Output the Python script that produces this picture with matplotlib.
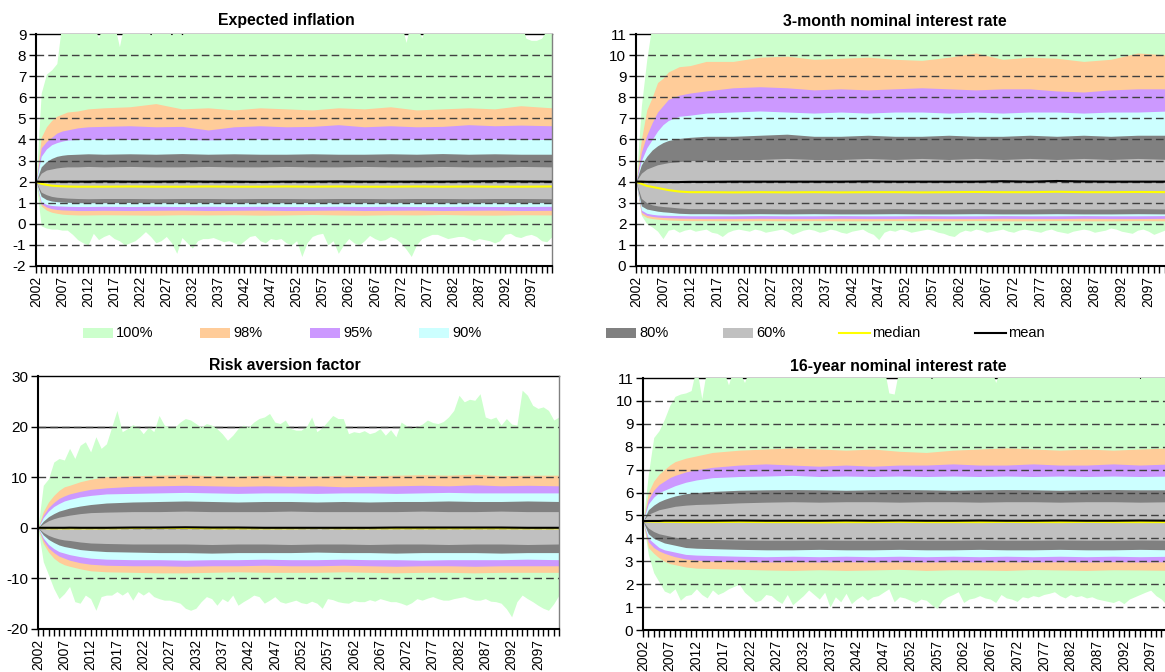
import numpy as np
import matplotlib
matplotlib.use("Agg")
import matplotlib.pyplot as plt
from matplotlib.patches import Rectangle
from matplotlib.lines import Line2D

plt.rcParams["font.family"] = ["Liberation Sans", "DejaVu Sans"]

# ── Data ──────────────────────────────────────────────────────────────────
YEARS = np.arange(2002, 2102)                      # yearly points for the 100% band
BAND_YEARS = [2002, 2003, 2004, 2005, 2006, 2007, 2008, 2010, 2012, 2015,
              2020, 2025, 2030, 2035, 2040, 2045, 2050, 2055, 2060, 2065,
              2070, 2075, 2080, 2085, 2090, 2095, 2101]

# Expected inflation
infl_100_hi = [2.0, 6.2, 7.1, 7.3, 7.6, 9.6, 9.8, 9.7, 9.6, 9.5,
               9.7, 9.5, 8.8, 9.6, 9.7, 9.5, 8.4, 9.6, 9.7, 9.8,
               9.5, 9.6, 8.9, 9.7, 9.6, 9.5, 8.9, 9.7, 8.9, 9.6,
               9.8, 9.5, 9.6, 9.7, 9.5, 9.8, 9.6, 9.7, 9.5, 9.6,
               9.8, 9.7, 9.5, 9.6, 9.7, 9.8, 9.6, 9.5, 9.7, 9.6,
               9.8, 9.5, 9.6, 9.7, 9.5, 9.8, 9.6, 9.7, 9.5, 9.6,
               9.7, 9.8, 9.5, 9.6, 9.7, 9.5, 9.8, 9.6, 9.7, 9.5,
               9.6, 8.6, 9.7, 9.5, 8.8, 9.6, 9.7, 9.8, 9.5, 9.6,
               9.7, 9.5, 9.8, 9.6, 9.7, 9.5, 9.6, 9.8, 9.7, 9.5,
               9.6, 9.7, 9.5, 9.6, 8.8, 8.7, 8.7, 8.8, 9.2, 9.4]
infl_100_lo = [2.0, -0.1, -0.2, -0.25, -0.25, -0.3, -0.3, -0.5, -0.75, -0.9,
               -1.0, -0.45, -0.75, -0.6, -0.5, -0.7, -0.8, -1.0, -0.9, -0.8,
               -0.6, -0.37, -0.6, -0.9, -0.8, -0.6, -0.9, -1.4, -0.65, -0.9,
               -1.15, -0.8, -0.7, -0.7, -0.65, -0.75, -0.85, -0.8, -0.9, -1.0,
               -0.8, -0.6, -0.55, -0.8, -0.9, -0.7, -0.75, -0.7, -0.9, -1.0,
               -0.8, -1.55, -0.9, -0.6, -0.5, -0.45, -1.0, -0.8, -1.4, -1.0,
               -0.7, -0.9, -1.0, -0.8, -0.55, -0.7, -0.8, -0.75, -0.6, -0.7,
               -0.9, -1.2, -1.55, -1.0, -0.7, -0.6, -0.5, -0.5, -0.6, -0.7,
               -0.65, -0.6, -0.6, -0.7, -0.8, -0.7, -0.75, -0.8, -0.9, -0.8,
               -0.5, -0.45, -0.6, -0.65, -0.55, -0.5, -0.6, -0.8, -0.85, -0.6]
infl_98_hi = [2.0, 4.1, 4.6, 4.9, 5.1, 5.2, 5.3, 5.35, 5.45, 5.5, 5.55, 5.7, 5.45, 5.5,
              5.4, 5.5, 5.45, 5.4, 5.5, 5.45, 5.55, 5.4, 5.45, 5.5, 5.45, 5.6, 5.5]
infl_98_lo = [2.0, 0.85, 0.65, 0.55, 0.5, 0.46, 0.44, 0.42, 0.42, 0.43, 0.42, 0.41, 0.43, 0.42,
              0.43, 0.41, 0.42, 0.44, 0.42, 0.41, 0.43, 0.42, 0.44, 0.42, 0.41, 0.43, 0.42]
infl_95_hi = [2.0, 3.6, 3.9, 4.1, 4.3, 4.4, 4.45, 4.55, 4.6, 4.62, 4.65, 4.6, 4.62, 4.45,
              4.6, 4.65, 4.6, 4.62, 4.7, 4.6, 4.65, 4.6, 4.62, 4.7, 4.65, 4.68, 4.65]
infl_95_lo = [2.0, 0.95, 0.8, 0.72, 0.68, 0.66, 0.65, 0.63, 0.63, 0.64, 0.63, 0.64, 0.65, 0.63,
              0.64, 0.65, 0.63, 0.64, 0.65, 0.63, 0.64, 0.65, 0.63, 0.64, 0.65, 0.63, 0.64]
infl_90_hi = [2.0, 3.2, 3.55, 3.75, 3.85, 3.92, 3.97, 4.0, 4.0, 4.02, 4.0, 4.02, 4.0, 3.98,
              4.0, 4.02, 4.0, 4.0, 4.02, 4.0, 4.0, 4.02, 4.0, 4.0, 4.02, 4.0, 4.0]
infl_90_lo = [2.0, 1.05, 0.92, 0.87, 0.85, 0.84, 0.83, 0.82, 0.82, 0.83, 0.82, 0.83, 0.82, 0.83,
              0.82, 0.83, 0.82, 0.82, 0.83, 0.82, 0.83, 0.82, 0.82, 0.83, 0.82, 0.82, 0.83]
infl_80_hi = [2.0, 2.7, 2.95, 3.1, 3.2, 3.25, 3.28, 3.3, 3.32, 3.3, 3.32, 3.3, 3.33, 3.3,
              3.32, 3.3, 3.3, 3.32, 3.3, 3.3, 3.32, 3.3, 3.33, 3.3, 3.32, 3.3, 3.3]
infl_80_lo = [2.0, 1.3, 1.15, 1.08, 1.05, 1.03, 1.02, 1.0, 1.0, 1.0, 1.01, 1.0, 1.0, 1.01,
              1.0, 1.0, 1.0, 1.01, 1.0, 1.0, 1.0, 1.01, 1.0, 1.0, 1.0, 1.01, 1.0]
infl_60_hi = [2.0, 2.4, 2.55, 2.6, 2.65, 2.68, 2.7, 2.7, 2.72, 2.7, 2.72, 2.7, 2.7, 2.72,
              2.7, 2.7, 2.72, 2.7, 2.7, 2.72, 2.7, 2.7, 2.72, 2.7, 2.7, 2.72, 2.7]
infl_60_lo = [2.0, 1.5, 1.38, 1.3, 1.26, 1.24, 1.22, 1.2, 1.19, 1.2, 1.2, 1.19, 1.2, 1.2,
              1.19, 1.2, 1.2, 1.19, 1.2, 1.2, 1.19, 1.2, 1.2, 1.19, 1.2, 1.2, 1.19]
infl_median = [2.0, 1.9, 1.85, 1.81, 1.79, 1.78, 1.77, 1.76, 1.76, 1.76, 1.77, 1.76, 1.76, 1.77,
               1.76, 1.76, 1.77, 1.76, 1.77, 1.76, 1.76, 1.77, 1.76, 1.77, 1.76, 1.76, 1.77]
infl_mean = [2.0, 1.99, 1.99, 2.0, 2.0, 2.0, 2.0, 2.0, 2.0, 2.01, 2.0, 2.0, 2.01, 2.0,
             2.0, 1.99, 2.0, 2.0, 2.01, 2.0, 2.0, 2.0, 2.0, 2.01, 2.02, 2.01, 2.0]

# 3-month nominal interest rate
r3m_100_hi = [4.0, 7.6, 9.8, 11.5, 12.0, 12.0, 12.0, 12.0, 12.0, 12.0,
              12.0, 12.0, 12.0, 12.0, 12.0, 12.0, 12.0, 12.0, 12.0, 12.0,
              12.0, 12.0, 12.0, 12.0, 12.0, 12.0, 12.0, 12.0, 12.0, 12.0,
              12.0, 12.0, 12.0, 12.0, 12.0, 12.0, 12.0, 12.0, 12.0, 12.0,
              12.0, 12.0, 12.0, 12.0, 12.0, 12.0, 12.0, 12.0, 12.0, 12.0,
              12.0, 12.0, 12.0, 12.0, 12.0, 12.0, 12.0, 12.0, 12.0, 12.0,
              12.0, 12.0, 12.0, 12.0, 12.0, 12.0, 12.0, 12.0, 12.0, 12.0,
              12.0, 12.0, 12.0, 12.0, 12.0, 12.0, 12.0, 12.0, 12.0, 12.0,
              12.0, 12.0, 12.0, 12.0, 12.0, 12.0, 12.0, 12.0, 12.0, 12.0,
              12.0, 12.0, 12.0, 12.0, 12.0, 12.0, 12.0, 12.0, 12.0, 12.0]
r3m_100_lo = [4.0, 2.4, 2.0, 1.85, 1.65, 1.3, 1.7, 1.75, 1.6, 1.7,
              1.75, 1.65, 1.7, 1.75, 1.6, 1.55, 1.4, 1.6, 1.7, 1.75,
              1.7, 1.65, 1.75, 1.7, 1.6, 1.65, 1.7, 1.75, 1.65, 1.5,
              1.6, 1.7, 1.75, 1.7, 1.6, 1.65, 1.75, 1.7, 1.6, 1.55,
              1.65, 1.7, 1.75, 1.6, 1.5, 1.25, 1.6, 1.7, 1.65, 1.75,
              1.7, 1.6, 1.65, 1.7, 1.75, 1.7, 1.6, 1.55, 1.45, 1.4,
              1.6, 1.7, 1.65, 1.75, 1.7, 1.6, 1.65, 1.7, 1.75, 1.65,
              1.6, 1.7, 1.75, 1.7, 1.65, 1.6, 1.7, 1.75, 1.65, 1.6,
              1.55, 1.65, 1.7, 1.75, 1.7, 1.6, 1.65, 1.7, 1.8, 1.75,
              1.65, 1.6, 1.55, 1.7, 1.75, 1.65, 1.5, 1.6, 1.7, 1.65]
r3m_98_hi = [4.0, 6.0, 7.4, 8.0, 8.7, 8.9, 9.2, 9.45, 9.5, 9.7, 9.7, 9.9, 9.95, 9.8,
             9.85, 9.9, 9.8, 9.75, 9.9, 10.1, 9.8, 9.9, 9.85, 9.7, 9.8, 10.1, 10.0]
r3m_98_lo = [4.0, 2.45, 2.3, 2.25, 2.22, 2.2, 2.18, 2.16, 2.15, 2.15, 2.14, 2.15, 2.14, 2.15,
             2.14, 2.14, 2.15, 2.14, 2.14, 2.15, 2.14, 2.14, 2.15, 2.14, 2.14, 2.15, 2.14]
r3m_95_hi = [4.0, 5.4, 6.2, 6.8, 7.3, 7.6, 7.9, 8.1, 8.2, 8.3, 8.45, 8.5, 8.45, 8.35,
             8.4, 8.35, 8.4, 8.45, 8.4, 8.35, 8.4, 8.4, 8.3, 8.25, 8.35, 8.4, 8.4]
r3m_95_lo = [4.0, 2.55, 2.4, 2.35, 2.32, 2.3, 2.29, 2.27, 2.26, 2.25, 2.25, 2.26, 2.25, 2.25,
             2.26, 2.25, 2.25, 2.26, 2.25, 2.25, 2.26, 2.25, 2.25, 2.26, 2.25, 2.25, 2.26]
r3m_90_hi = [4.0, 5.0, 5.6, 6.0, 6.4, 6.7, 6.9, 7.1, 7.15, 7.25, 7.3, 7.35, 7.3, 7.25,
             7.3, 7.25, 7.3, 7.3, 7.25, 7.3, 7.25, 7.3, 7.3, 7.25, 7.3, 7.3, 7.35]
r3m_90_lo = [4.0, 2.65, 2.5, 2.45, 2.42, 2.41, 2.4, 2.39, 2.38, 2.38, 2.38, 2.39, 2.38, 2.38,
             2.39, 2.38, 2.38, 2.39, 2.38, 2.38, 2.39, 2.38, 2.38, 2.39, 2.38, 2.38, 2.39]
r3m_80_hi = [4.0, 4.8, 5.2, 5.5, 5.7, 5.85, 5.95, 6.05, 6.1, 6.15, 6.15, 6.2, 6.25, 6.15,
             6.15, 6.2, 6.15, 6.15, 6.2, 6.15, 6.15, 6.2, 6.15, 6.2, 6.15, 6.2, 6.2]
r3m_80_lo = [4.0, 2.85, 2.7, 2.65, 2.6, 2.57, 2.55, 2.5, 2.48, 2.48, 2.47, 2.48, 2.47, 2.48,
             2.47, 2.47, 2.48, 2.47, 2.47, 2.48, 2.47, 2.47, 2.48, 2.47, 2.47, 2.48, 2.47]
r3m_60_hi = [4.0, 4.4, 4.6, 4.7, 4.8, 4.85, 4.9, 4.95, 5.0, 5.0, 5.05, 5.05, 5.1, 5.05,
             5.05, 5.1, 5.05, 5.1, 5.05, 5.1, 5.05, 5.1, 5.05, 5.1, 5.05, 5.1, 5.05]
r3m_60_lo = [4.0, 3.2, 3.0, 2.9, 2.85, 2.82, 2.8, 2.75, 2.72, 2.72, 2.7, 2.72, 2.7, 2.72,
             2.7, 2.7, 2.72, 2.7, 2.7, 2.72, 2.7, 2.7, 2.72, 2.7, 2.7, 2.72, 2.7]
r3m_median = [4.0, 3.9, 3.8, 3.75, 3.7, 3.65, 3.6, 3.53, 3.5, 3.5, 3.49, 3.5, 3.49, 3.5,
              3.49, 3.5, 3.5, 3.49, 3.5, 3.51, 3.5, 3.5, 3.52, 3.5, 3.5, 3.51, 3.5]
r3m_mean = [4.0, 4.0, 3.99, 3.99, 3.98, 3.98, 3.98, 3.98, 3.99, 3.99, 4.0, 4.0, 4.0, 4.0,
            4.0, 4.01, 4.0, 4.0, 4.0, 4.0, 4.02, 4.0, 4.03, 4.01, 4.0, 4.0, 4.0]

# Risk aversion factor
risk_100_hi = [0.0, 8.4, 9.7, 13.0, 13.7, 13.4, 15.7, 13.7, 16.3, 17.0,
               15.0, 18.0, 15.7, 16.6, 19.9, 23.2, 19.0, 19.6, 20.4, 19.9,
               18.6, 19.9, 19.0, 22.2, 20.3, 19.9, 19.9, 20.9, 21.6, 21.3,
               20.6, 19.9, 20.6, 20.3, 19.6, 18.6, 17.3, 18.3, 19.6, 20.3,
               19.9, 20.9, 21.6, 21.9, 22.6, 20.9, 20.6, 21.3, 19.6, 19.3,
               19.3, 20.0, 21.9, 19.0, 19.8, 21.0, 22.2, 21.6, 21.6, 18.6,
               19.0, 18.8, 19.2, 18.6, 18.9, 19.6, 18.3, 19.4, 18.0, 20.9,
               20.2, 19.6, 20.0, 20.5, 21.3, 20.8, 20.6, 21.0, 21.9, 23.2,
               26.2, 24.9, 25.4, 25.2, 26.5, 21.9, 21.5, 21.9, 20.3, 21.6,
               20.5, 20.3, 27.2, 26.2, 24.2, 23.6, 23.9, 23.2, 21.3, 21.9]
risk_100_lo = [0.0, -6.7, -9.3, -12.0, -14.0, -13.0, -11.6, -14.6, -14.9, -13.3,
               -14.0, -16.3, -13.6, -13.3, -13.3, -12.6, -13.3, -12.6, -14.3, -12.6,
               -13.3, -12.6, -13.6, -14.0, -14.3, -14.3, -14.6, -14.9, -15.9, -16.3,
               -15.9, -14.6, -13.6, -14.0, -15.3, -14.0, -14.6, -13.3, -15.3, -14.6,
               -14.0, -13.3, -13.6, -14.9, -14.3, -13.6, -14.6, -14.9, -14.6, -14.3,
               -14.8, -15.0, -14.5, -14.9, -15.9, -14.0, -14.2, -14.6, -14.8, -14.9,
               -14.4, -14.6, -14.6, -14.2, -14.5, -14.0, -14.3, -14.6, -14.6, -14.9,
               -15.3, -14.8, -14.0, -14.3, -13.9, -13.6, -14.0, -14.3, -14.3, -14.0,
               -13.8, -13.6, -14.0, -14.3, -14.3, -14.0, -14.5, -14.6, -14.9, -16.0,
               -17.6, -14.6, -13.3, -14.0, -14.6, -15.3, -15.9, -16.3, -15.0, -13.3]
risk_98_hi = [0.0, 3.2, 5.1, 6.4, 7.4, 8.1, 8.4, 9.1, 9.6, 10.1, 10.3, 10.4, 10.5, 10.3,
              10.2, 10.4, 10.3, 10.2, 10.4, 10.3, 10.4, 10.5, 10.4, 10.6, 10.3, 10.4, 10.4]
risk_98_lo = [0.0, -3.1, -4.8, -6.0, -6.8, -7.3, -7.6, -8.1, -8.5, -8.7, -8.8, -8.9, -8.9, -8.8,
              -8.7, -8.8, -8.8, -8.8, -8.7, -8.8, -8.9, -8.8, -8.8, -8.9, -8.8, -8.8, -8.8]
risk_95_hi = [0.0, 2.5, 4.0, 5.0, 5.8, 6.3, 6.7, 7.2, 7.6, 7.9, 8.2, 8.3, 8.4, 8.3,
              8.2, 8.3, 8.2, 8.3, 8.1, 8.2, 8.3, 8.4, 8.3, 8.5, 8.3, 8.4, 8.3]
risk_95_lo = [0.0, -2.5, -4.0, -4.9, -5.6, -6.0, -6.4, -6.9, -7.2, -7.4, -7.5, -7.5, -7.6, -7.5,
              -7.5, -7.4, -7.5, -7.5, -7.4, -7.5, -7.6, -7.5, -7.5, -7.6, -7.5, -7.5, -7.5]
risk_90_hi = [0.0, 2.0, 3.3, 4.2, 4.8, 5.3, 5.6, 6.1, 6.4, 6.7, 6.8, 6.9, 7.0, 6.9,
              6.8, 6.9, 6.9, 6.8, 6.9, 6.9, 6.8, 6.9, 7.0, 6.9, 6.9, 6.9, 6.9]
risk_90_lo = [0.0, -2.0, -3.3, -4.1, -4.7, -5.0, -5.3, -5.7, -6.0, -6.2, -6.3, -6.3, -6.4, -6.3,
              -6.3, -6.2, -6.3, -6.3, -6.2, -6.3, -6.3, -6.4, -6.3, -6.3, -6.3, -6.2, -6.3]
risk_80_hi = [0.0, 1.3, 2.2, 2.8, 3.3, 3.6, 3.9, 4.3, 4.6, 4.9, 5.1, 5.2, 5.3, 5.2,
              5.1, 5.2, 5.2, 5.1, 5.2, 5.1, 5.2, 5.2, 5.3, 5.2, 5.2, 5.3, 5.2]
risk_80_lo = [0.0, -1.4, -2.3, -2.9, -3.4, -3.7, -3.9, -4.3, -4.5, -4.7, -4.8, -4.9, -4.9, -5.0,
              -4.9, -4.9, -4.9, -4.8, -4.9, -4.9, -5.0, -4.9, -4.9, -4.9, -5.0, -4.9, -4.9]
risk_60_hi = [0.0, 0.8, 1.4, 1.8, 2.1, 2.3, 2.5, 2.8, 3.0, 3.1, 3.2, 3.2, 3.3, 3.2,
              3.2, 3.2, 3.3, 3.2, 3.2, 3.2, 3.2, 3.3, 3.2, 3.2, 3.3, 3.2, 3.2]
risk_60_lo = [0.0, -0.9, -1.5, -1.9, -2.2, -2.4, -2.5, -2.8, -3.0, -3.1, -3.2, -3.2, -3.2, -3.3,
              -3.2, -3.2, -3.3, -3.2, -3.2, -3.3, -3.2, -3.2, -3.3, -3.2, -3.2, -3.3, -3.2]
risk_median = [0.0, -0.05, -0.1, -0.1, -0.1, -0.1, -0.1, -0.1, -0.1, -0.1, -0.05, -0.05, -0.05, -0.1,
               -0.1, -0.1, -0.1, -0.05, -0.1, -0.1, -0.1, -0.1, -0.1, -0.1, -0.1, -0.1, -0.1]
risk_mean = [0.0, 0.0, 0.0, 0.0, 0.0, 0.0, 0.02, 0.0, 0.0, 0.0, 0.05, 0.05, 0.1, 0.05,
             0.05, 0.0, 0.0, 0.0, 0.0, 0.0, 0.05, 0.05, 0.05, 0.05, 0.05, 0.0, 0.0]

# 16-year nominal interest rate
r16_100_hi = [4.75, 6.8, 8.4, 8.7, 9.2, 9.8, 10.2, 10.3, 10.35, 10.45,
              11.5, 10.1, 11.5, 11.6, 11.5, 11.4, 10.7, 11.5, 11.3, 10.8,
              11.5, 11.6, 11.5, 11.4, 11.6, 11.5, 11.5, 11.6, 11.4, 11.5,
              11.6, 11.5, 11.4, 11.5, 11.6, 11.5, 11.5, 11.4, 11.6, 11.5,
              11.5, 11.6, 11.4, 11.5, 11.5, 11.6, 10.35, 10.3, 11.5, 11.4,
              11.6, 11.5, 11.5, 11.4, 10.95, 11.5, 11.6, 11.2, 11.5, 11.4,
              11.5, 11.6, 11.5, 11.4, 11.5, 11.6, 10.8, 11.5, 11.4, 11.5,
              11.6, 11.5, 11.5, 11.4, 11.6, 11.5, 11.5, 11.6, 11.4, 11.5,
              11.5, 11.6, 11.5, 11.4, 11.5, 11.6, 11.5, 11.5, 11.4, 11.6,
              11.5, 11.5, 11.6, 10.95, 11.5, 11.4, 11.5, 11.6, 11.5, 11.5]
r16_100_lo = [4.75, 3.3, 2.5, 2.1, 1.7, 1.6, 1.8, 1.3, 1.5, 1.55,
              1.8, 1.55, 1.4, 1.75, 1.55, 1.65, 1.8, 1.9, 2.0, 1.65,
              1.45, 1.23, 1.3, 1.55, 1.5, 1.3, 1.16, 1.55, 1.1, 1.3,
              1.5, 1.75, 1.55, 1.35, 1.65, 1.0, 1.45, 1.23, 1.6, 1.15,
              1.35, 1.5, 1.3, 1.45, 1.5, 1.65, 1.8, 1.23, 1.45, 1.4,
              1.3, 1.2, 1.35, 1.3, 1.1, 0.94, 1.3, 1.45, 1.55, 1.67,
              1.2, 1.35, 1.4, 1.5, 1.4, 1.35, 1.2, 1.55, 1.4, 1.35,
              1.25, 1.45, 1.4, 1.5, 1.45, 1.55, 1.6, 1.67, 1.5, 1.4,
              1.55, 1.45, 1.5, 1.4, 1.45, 1.35, 1.3, 1.25, 1.2, 1.3,
              1.15, 1.35, 1.45, 1.55, 1.65, 1.74, 1.5, 1.35, 1.1, 1.0]
r16_98_hi = [4.75, 6.0, 6.5, 6.8, 7.0, 7.2, 7.35, 7.5, 7.6, 7.75, 7.85, 7.9, 7.95, 7.9,
             7.85, 7.9, 7.8, 7.75, 7.85, 7.9, 7.95, 7.9, 7.85, 7.9, 7.85, 7.9, 7.95]
r16_98_lo = [4.75, 3.6, 3.35, 3.15, 3.0, 2.9, 2.85, 2.75, 2.7, 2.68, 2.65, 2.62, 2.6, 2.63,
             2.6, 2.62, 2.65, 2.6, 2.63, 2.62, 2.6, 2.64, 2.62, 2.6, 2.63, 2.62, 2.6]
r16_95_hi = [4.75, 5.7, 6.1, 6.35, 6.5, 6.65, 6.75, 6.9, 7.0, 7.1, 7.2, 7.25, 7.2, 7.15,
             7.2, 7.15, 7.2, 7.2, 7.25, 7.2, 7.2, 7.25, 7.2, 7.2, 7.25, 7.2, 7.25]
r16_95_lo = [4.75, 3.85, 3.6, 3.45, 3.35, 3.27, 3.2, 3.1, 3.05, 3.0, 2.98, 2.97, 2.98, 2.97,
             2.98, 2.97, 2.98, 2.97, 2.98, 2.97, 2.98, 2.97, 2.98, 2.97, 2.98, 2.97, 2.98]
r16_90_hi = [4.75, 5.5, 5.8, 6.0, 6.1, 6.2, 6.3, 6.45, 6.55, 6.65, 6.7, 6.72, 6.75, 6.7,
             6.72, 6.7, 6.72, 6.7, 6.72, 6.7, 6.72, 6.7, 6.72, 6.7, 6.72, 6.7, 6.72]
r16_90_lo = [4.75, 4.0, 3.8, 3.6, 3.5, 3.45, 3.4, 3.3, 3.27, 3.25, 3.22, 3.2, 3.22, 3.2,
             3.22, 3.2, 3.22, 3.2, 3.22, 3.2, 3.22, 3.2, 3.22, 3.2, 3.22, 3.2, 3.22]
r16_80_hi = [4.75, 5.25, 5.45, 5.6, 5.7, 5.78, 5.85, 5.95, 6.0, 6.05, 6.1, 6.12, 6.13, 6.12,
             6.1, 6.12, 6.13, 6.12, 6.1, 6.12, 6.13, 6.12, 6.1, 6.12, 6.13, 6.12, 6.12]
r16_80_lo = [4.75, 4.2, 4.0, 3.9, 3.8, 3.75, 3.7, 3.6, 3.57, 3.55, 3.52, 3.5, 3.5, 3.52,
             3.5, 3.5, 3.52, 3.5, 3.5, 3.52, 3.5, 3.5, 3.52, 3.5, 3.5, 3.52, 3.5]
r16_60_hi = [4.75, 5.05, 5.15, 5.25, 5.3, 5.35, 5.4, 5.45, 5.48, 5.5, 5.55, 5.58, 5.6, 5.58,
             5.6, 5.6, 5.58, 5.6, 5.6, 5.58, 5.6, 5.6, 5.58, 5.6, 5.6, 5.58, 5.6]
r16_60_lo = [4.75, 4.45, 4.3, 4.2, 4.15, 4.1, 4.05, 4.0, 3.97, 3.95, 3.93, 3.92, 3.92, 3.93,
             3.92, 3.92, 3.93, 3.92, 3.92, 3.93, 3.92, 3.92, 3.93, 3.92, 3.92, 3.93, 3.92]
r16_median = [4.75, 4.74, 4.73, 4.73, 4.72, 4.72, 4.72, 4.71, 4.71, 4.71, 4.72, 4.71, 4.71, 4.7,
              4.71, 4.71, 4.72, 4.71, 4.71, 4.71, 4.72, 4.71, 4.71, 4.72, 4.71, 4.71, 4.71]
r16_mean = [4.75, 4.76, 4.76, 4.76, 4.77, 4.77, 4.77, 4.77, 4.77, 4.77, 4.78, 4.77, 4.77, 4.77,
            4.78, 4.77, 4.78, 4.77, 4.77, 4.78, 4.77, 4.77, 4.78, 4.77, 4.77, 4.78, 4.77]

# ── Styling ───────────────────────────────────────────────────────────────
BAND_COLORS = {"100%": "#CCFFCC", "98%": "#FFCC99", "95%": "#CC99FF",
               "90%": "#CCFFFF", "80%": "#808080", "60%": "#C0C0C0"}
MEDIAN_COLOR = "#FFFF00"
MEAN_COLOR = "#000000"
GRID_COLOR = "#404040"

PANELS = [
    {"title": "Expected inflation", "rect": [36, 34, 552, 266], "title_x": 286, "title_y": 21,
     "ylim": (-2, 9), "yticks": np.arange(-2, 10, 1),
     "outer": (infl_100_lo, infl_100_hi),
     "bands": [(infl_98_lo, infl_98_hi), (infl_95_lo, infl_95_hi), (infl_90_lo, infl_90_hi),
               (infl_80_lo, infl_80_hi), (infl_60_lo, infl_60_hi)],
     "median": infl_median, "mean": infl_mean},
    {"title": "3-month nominal interest rate", "rect": [636, 34, 1170, 266], "title_x": 895, "title_y": 21,
     "ylim": (0, 11), "yticks": np.arange(0, 12, 1),
     "outer": (r3m_100_lo, r3m_100_hi),
     "bands": [(r3m_98_lo, r3m_98_hi), (r3m_95_lo, r3m_95_hi), (r3m_90_lo, r3m_90_hi),
               (r3m_80_lo, r3m_80_hi), (r3m_60_lo, r3m_60_hi)],
     "median": r3m_median, "mean": r3m_mean},
    {"title": "Risk aversion factor", "rect": [38, 376, 559, 629], "title_x": 285, "title_y": 366,
     "ylim": (-20, 30), "yticks": np.arange(-20, 31, 10),
     "outer": (risk_100_lo, risk_100_hi),
     "bands": [(risk_98_lo, risk_98_hi), (risk_95_lo, risk_95_hi), (risk_90_lo, risk_90_hi),
               (risk_80_lo, risk_80_hi), (risk_60_lo, risk_60_hi)],
     "median": risk_median, "mean": risk_mean},
    {"title": "16-year nominal interest rate", "rect": [643, 378, 1172, 630], "title_x": 898, "title_y": 367,
     "ylim": (0, 11), "yticks": np.arange(0, 12, 1),
     "outer": (r16_100_lo, r16_100_hi),
     "bands": [(r16_98_lo, r16_98_hi), (r16_95_lo, r16_95_hi), (r16_90_lo, r16_90_hi),
               (r16_80_lo, r16_80_hi), (r16_60_lo, r16_60_hi)],
     "median": r16_median, "mean": r16_mean},
]

W, H = 1165, 672
fig = plt.figure(figsize=(W / 100, H / 100), dpi=100)

for p in PANELS:
    x0, y0, x1, y1 = p["rect"]
    ax = fig.add_axes([x0 / W, 1 - y1 / H, (x1 - x0) / W, (y1 - y0) / H])

    ax.fill_between(YEARS, p["outer"][0], p["outer"][1], color=BAND_COLORS["100%"], lw=0, zorder=1)
    for (lo, hi), key in zip(p["bands"], ["98%", "95%", "90%", "80%", "60%"]):
        ax.fill_between(BAND_YEARS, lo, hi, color=BAND_COLORS[key], lw=0, zorder=1)

    lo_lim, hi_lim = p["ylim"]
    if p["title"] == "Risk aversion factor":
        ax.axhline(20, color="black", lw=1, zorder=0.6)
    for y in p["yticks"]:
        if lo_lim < y < hi_lim:
            ax.axhline(y, color=GRID_COLOR, lw=1, ls=(0, (5.5, 3)), zorder=3)

    ax.plot(BAND_YEARS, p["median"], color=MEDIAN_COLOR, lw=1.5, zorder=4)
    ax.plot(BAND_YEARS, p["mean"], color=MEAN_COLOR, lw=1.5, zorder=4)

    ax.set_xlim(2002, 2101)
    ax.set_ylim(lo_lim, hi_lim)
    ax.set_yticks(p["yticks"])
    ax.set_yticklabels([f"{int(v)}" for v in p["yticks"]], fontsize=11)
    ax.set_xticks(YEARS)
    ax.set_xticklabels([str(y) if (y - 2002) % 5 == 0 else "" for y in YEARS],
                       rotation=90, fontsize=10)
    ax.tick_params(axis="both", direction="out", length=5, width=1, pad=2, color="black")

    for side in ("left", "bottom"):
        ax.spines[side].set_linewidth(1.5)
        ax.spines[side].set_color("black")
        ax.spines[side].set_zorder(5)
    ax.spines["top"].set_color("black")
    ax.spines["top"].set_linewidth(1)
    ax.spines["top"].set_zorder(0.5)
    ax.spines["right"].set_color("#808080")
    ax.spines["right"].set_linewidth(1)
    ax.spines["right"].set_zorder(5)

    fig.text(p["title_x"] / W, 1 - p["title_y"] / H, p["title"], ha="center", va="center",
             fontsize=11.4, fontweight="bold")

# ── Legend row ────────────────────────────────────────────────────────────
legend_y = 333
legend_items = [("100%", 83), ("98%", 200), ("95%", 310), ("90%", 419),
                ("80%", 606), ("60%", 723), ("median", 839), ("mean", 975)]
for label, px in legend_items:
    if label in BAND_COLORS:
        fig.add_artist(Rectangle((px / W, 1 - (legend_y + 5) / H), 30 / W, 10 / H,
                                 transform=fig.transFigure, color=BAND_COLORS[label], lw=0))
    else:
        color = MEDIAN_COLOR if label == "median" else MEAN_COLOR
        fig.add_artist(Line2D([px / W, (px + 31) / W], [1 - legend_y / H] * 2,
                              transform=fig.transFigure, color=color, lw=1.5))
    fig.text((px + 33) / W, 1 - legend_y / H, label, ha="left", va="center", fontsize=10.5)

fig.savefig("out.png", dpi=100)
